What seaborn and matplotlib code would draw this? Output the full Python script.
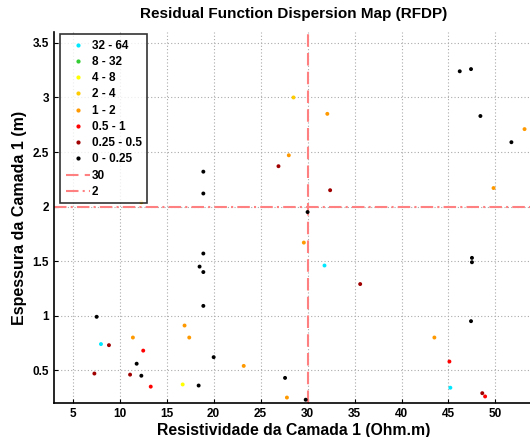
import matplotlib
matplotlib.use("Agg")
import matplotlib.pyplot as plt
from matplotlib.lines import Line2D
import pandas as pd
import seaborn as sns

# residual classes (legend order) and their colours
classes = ["32 - 64", "8 - 32", "4 - 8", "2 - 4", "1 - 2", "0.5 - 1", "0.25 - 0.5", "0 - 0.25"]
class_colors = ["#00e8ff", "#33cc33", "#ffff00", "#ffcc00", "#ff9900", "#ff0000", "#a00000", "#000000"]

# points: resistivity (Ohm.m), thickness (m), class
rho = [8.0, 31.8, 45.2,
       16.7,
       12.3, 28.5,
       28.0, 32.1, 53.1, 49.8, 29.6, 43.5, 27.8, 11.4, 17.4, 16.9, 23.2,
       12.5, 13.3, 45.1, 48.9,
       26.9, 32.4, 35.6, 8.85, 7.3, 11.1, 48.6,
       18.9, 18.9, 18.9, 18.5, 18.9, 18.9, 7.54, 20.0, 11.8, 12.3, 27.6, 18.4,
       29.8, 30.0, 46.2, 47.4, 48.4, 51.7, 47.5, 47.5, 47.4]
thick = [0.74, 1.46, 0.34,
         0.37,
         2.04, 3.00,
         2.47, 2.85, 2.71, 2.17, 1.67, 0.80, 0.25, 0.80, 0.80, 0.91, 0.54,
         0.68, 0.35, 0.58, 0.26,
         2.37, 2.15, 1.29, 0.73, 0.47, 0.46, 0.29,
         2.32, 2.12, 1.57, 1.45, 1.40, 1.09, 0.99, 0.62, 0.56, 0.45, 0.43, 0.36,
         0.23, 1.95, 3.24, 3.26, 2.83, 2.59, 1.53, 1.49, 0.95]
cls = (["32 - 64"] * 3 + ["4 - 8"] * 1 + ["2 - 4"] * 2 + ["1 - 2"] * 11
       + ["0.5 - 1"] * 4 + ["0.25 - 0.5"] * 7 + ["0 - 0.25"] * 21)

rho_best = 30
thick_best = 2

df = pd.DataFrame({"rho": rho, "h": thick, "cls": cls})
palette = dict(zip(classes, class_colors))

plt.rcParams["font.family"] = ["Liberation Sans", "DejaVu Sans"]

fig = plt.figure(figsize=(5.3, 4.37), dpi=100)
ax = fig.add_axes([54 / 530, 1 - 403 / 437, 479 / 530, 371 / 437])

sns.scatterplot(data=df, x="rho", y="h", hue="cls", hue_order=classes,
                palette=palette, s=8, linewidth=0, legend=False, ax=ax, zorder=3)

line_col = "#ff8080"
ax.axvline(rho_best, color=line_col, lw=1.5, ls=(0, (6, 3)), zorder=2)
ax.axhline(thick_best, color=line_col, lw=1.5, ls=(0, (6, 2, 1, 2)), zorder=2)

ax.set_xlim(3, 54)
ax.set_ylim(0.2, 3.6)
ax.set_xticks(range(5, 55, 5))
ax.set_yticks([0.5, 1, 1.5, 2, 2.5, 3, 3.5])
ax.set_yticklabels(["0.5", "1", "1.5", "2", "2.5", "3", "3.5"])
ax.grid(True, ls=(0, (1, 2)), color="#aaaaaa", lw=0.8)
ax.set_axisbelow(True)
ax.tick_params(direction="in", length=3, labelsize=8.5)
for lab in ax.get_xticklabels() + ax.get_yticklabels():
    lab.set_fontweight("bold")
for s in ["top", "right"]:
    ax.spines[s].set_visible(False)
for s in ["left", "bottom"]:
    ax.spines[s].set_linewidth(1.2)

ax.set_title("Residual Function Dispersion Map (RFDP)", fontsize=11, fontweight="bold", pad=10)
ax.set_xlabel("Resistividade da Camada 1 (Ohm.m)", fontsize=11.3, fontweight="bold", labelpad=2)
ax.set_ylabel("Espessura da Camada 1 (m)", fontsize=11.5, fontweight="bold", labelpad=4)

handles = [Line2D([], [], ls="none", marker=".", ms=4, color=c) for c in class_colors]
handles.append(Line2D([], [], color=line_col, lw=1.5, ls=(0, (6, 3))))
handles.append(Line2D([], [], color=line_col, lw=1.5, ls=(0, (6, 2, 1, 2))))
labels = classes + [str(rho_best), str(thick_best)]
leg = ax.legend(handles, labels, loc="upper left", bbox_to_anchor=(0.008, 1.0),
                prop={"weight": "bold", "size": 8.5}, frameon=True, fancybox=False,
                edgecolor="black", handlelength=2.1, handletextpad=0.15,
                labelspacing=0.36, borderpad=0.45, borderaxespad=0.2)
leg.get_frame().set_linewidth(1.2)

fig.savefig("out.png", dpi=100)
